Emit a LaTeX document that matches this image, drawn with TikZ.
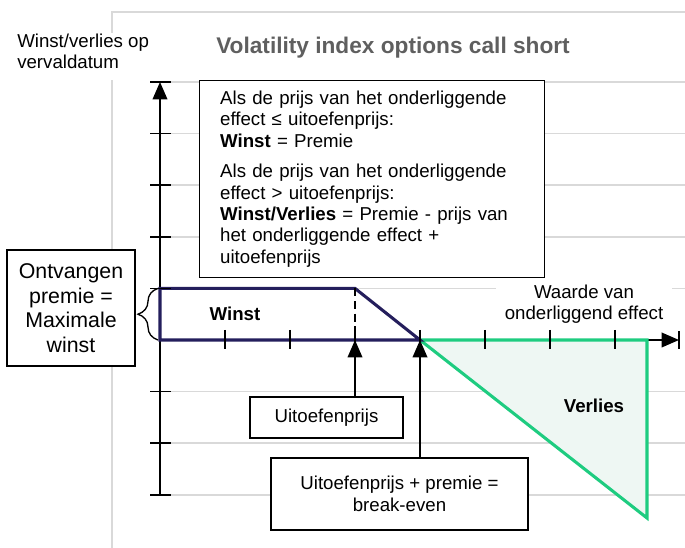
\documentclass[tikz,border=0pt]{standalone}
\usepackage{fontspec}
\setmainfont{Liberation Sans}
\usetikzlibrary{arrows.meta,decorations.pathreplacing}
\definecolor{navy}{RGB}{36,30,92}
\definecolor{vgreen}{RGB}{30,204,128}
\definecolor{vfill}{RGB}{238,247,243}
\definecolor{gridgray}{RGB}{217,217,217}
\definecolor{titlegray}{RGB}{95,95,95}
\begin{document}
\begin{tikzpicture}[x=0.75pt,y=-0.75pt,
  gridline/.style={draw=gridgray,line width=1.1pt},
  axis/.style={draw=black,line width=1.1pt},
  tickmark/.style={draw=black,line width=1.1pt},
  box/.style={draw=black,line width=1pt,fill=white,inner sep=0pt,align=center},
  txt/.style={font=\fontsize{14}{15.75}\selectfont},
  boldtxt/.style={font=\fontsize{14}{15.75}\selectfont\bfseries},
  tip/.style={-{Triangle[length=13pt,width=11pt]}},
  profit/.style={draw=navy,line width=2.3pt},
  loss/.style={draw=vgreen,fill=vfill,line width=2.3pt}
]
\useasboundingbox (0,0) rectangle (685,548);

% background grid
\draw[gridline] (112,548) -- (112,80);
\draw[gridline] (112,33) -- (112,12) -- (685,12);
\foreach \y in {82,133.6,185.2,236.8,288.4,391.6,443.2,494.8}
  \draw[gridline] (160,\y) -- (685,\y);

% axes
\coordinate (O) at (160,340);
\coordinate (Ytop) at (160,82);
\coordinate (Ybot) at (160,494.8);
\coordinate (Xend) at (679,340);
\coordinate (K) at (355,340);
\coordinate (B) at (420,340);
\draw[axis,tip] (Ybot) -- (Ytop);
\draw[axis,tip] (O) -- (Xend);

% loss triangle and profit shape
\draw[loss] (B) -- (647,340) -- (647,518) -- cycle;
\draw[profit] (O) -- (160,288.4) -- (355,288.4) -- (B) -- cycle;

% ticks
\foreach \y in {82,133.6,185.2,236.8,288.4,391.6,443.2,494.8}
  \draw[tickmark] (150,\y) -- (171,\y);
\foreach \x in {225,290,355,420,485,550,615}
  \draw[tickmark] (\x,330) -- (\x,349);
\draw[tickmark] (679,331) -- (679,349);

% dashed strike line
\draw[black,line width=1.1pt,dash pattern=on 6pt off 3.5pt] (355,288.4) -- (K);

% brace
\draw[black,line width=1pt,decorate,decoration={brace,amplitude=15pt}] (158,340) -- (158,288.4);

% labels
\node[font=\fontsize{17}{20}\selectfont\bfseries,text=titlegray] (title) at (393,48) {Volatility index options call short};
\node[txt,align=left,anchor=north west,inner sep=0pt] (ylab) at (17,34) {Winst/verlies op\\vervaldatum};
\node[txt,fill=white,align=center,minimum width=132pt,inner sep=1pt] (waarde) at (584,304) {Waarde van\\onderliggend effect};
\node[boldtxt] (winst) at (235,314) {Winst};
\node[boldtxt] (verlies) at (594,406) {Verlies};

% boxes
\node[box,font=\fontsize{16}{18.4}\selectfont,minimum width=96pt,minimum height=87pt] (prem) at (71,308) {Ontvangen\\premie =\\Maximale\\winst};
\node[box,font=\fontsize{14}{16.1}\selectfont,anchor=north west,minimum width=258.75pt,minimum height=147.75pt,text width=228pt,align=left] (rule) at (199,80)
 {Als de prijs van het onderliggende\\effect ≤ uitoefenprijs:\\\textbf{Winst} = Premie\\[6.5pt]Als de prijs van het onderliggende\\effect > uitoefenprijs:\\\textbf{Winst/Verlies} = Premie - prijs van\\het onderliggende effect +\\uitoefenprijs};
\node[box,txt,minimum width=114.75pt,minimum height=30.75pt] (strike) at (326.5,417.5) {Uitoefenprijs};
\node[box,font=\fontsize{14}{16.5}\selectfont,minimum width=192.75pt,minimum height=54pt] (be) at (399.5,494) {Uitoefenprijs + premie =\\break-even};

% arrows from boxes
\draw[axis,tip] (strike.north -| K) -- (K);
\draw[axis,tip] (be.north -| B) -- (B);
\end{tikzpicture}
\end{document}
